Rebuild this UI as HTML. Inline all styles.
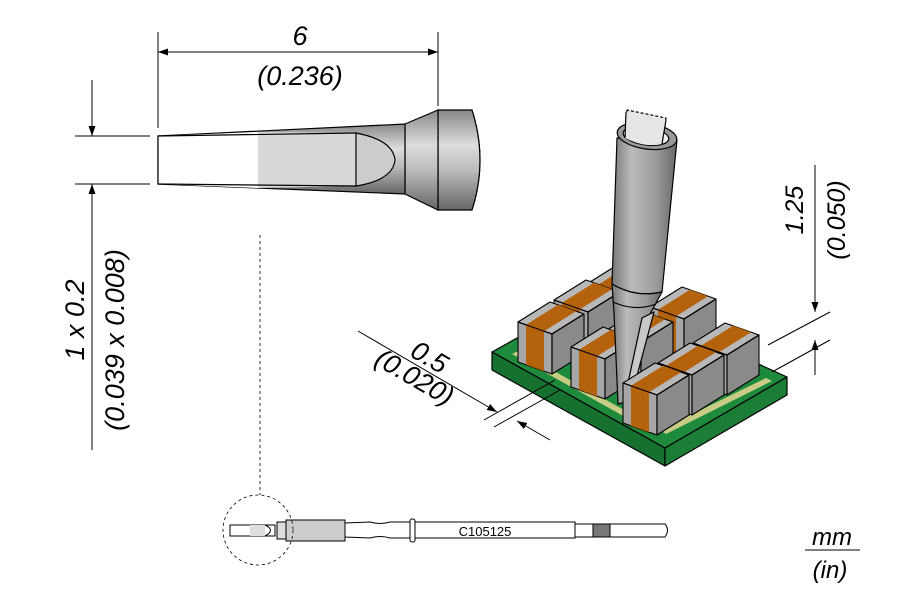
<!DOCTYPE html>
<html><head><meta charset="utf-8"><style>
html,body{margin:0;padding:0;background:#fff;}
svg{display:block;}
text{font-family:"Liberation Sans",sans-serif;font-style:italic;fill:#000;}
</style></head><body>
<svg width="900" height="600" viewBox="0 0 900 600" xmlns="http://www.w3.org/2000/svg">
<defs>
<linearGradient id="gv" x1="0" y1="0" x2="0" y2="1">
<stop offset="0" stop-color="#888"/><stop offset="0.35" stop-color="#ddd"/><stop offset="0.6" stop-color="#bbb"/><stop offset="1" stop-color="#666"/>
</linearGradient>
<linearGradient id="gh" x1="0" y1="0" x2="1" y2="0">
<stop offset="0" stop-color="#777"/><stop offset="0.3" stop-color="#bbb"/><stop offset="0.7" stop-color="#999"/><stop offset="1" stop-color="#666"/>
</linearGradient>
<marker id="ar" viewBox="0 0 10 10" refX="10" refY="5" markerWidth="10" markerHeight="10" orient="auto" markerUnits="userSpaceOnUse"><path d="M0,1.5 L10,5 L0,8.5 Z" fill="#000"/></marker>
<g id="chip" stroke="#000" stroke-width="1.1" stroke-linejoin="round">
<path d="M0,0 L34,12 L66,-8 L32,-20 Z" fill="#b8b8b8"/>
<path d="M0,0 L34,12 L34,52 L0,40 Z" fill="#a6a6a6"/>
<path d="M34,12 L66,-8 L66,32 L34,52 Z" fill="#8a8a8a"/>
<path d="M8,2.8 L26,9.2 L26,49.2 L8,42.8 Z" fill="#b5620c" stroke="none"/>
<path d="M8,2.8 L26,9.2 L58,-10.8 L40,-17.2 Z" fill="#b5620c" stroke="none"/>
<path d="M0,0 L34,12 L66,-8 M34,12 L34,52" fill="none"/>
</g>
</defs>

<!-- top dimension -->
<g stroke="#000" stroke-width="1" fill="none">
<line x1="158" y1="32" x2="158" y2="128"/>
<line x1="438" y1="32" x2="438" y2="106"/>
<line x1="170" y1="52" x2="158" y2="52" marker-end="url(#ar)"/>
<line x1="170" y1="52" x2="426" y2="52"/>
<line x1="426" y1="52" x2="438" y2="52" marker-end="url(#ar)"/>
</g>
<text x="300" y="45" font-size="27" text-anchor="middle">6</text>
<text x="300" y="85" font-size="27" text-anchor="middle">(0.236)</text>

<!-- left dimension -->
<g stroke="#000" stroke-width="1" fill="none">
<line x1="75" y1="136" x2="150" y2="136"/>
<line x1="75" y1="184" x2="150" y2="184"/>
<line x1="92" y1="80" x2="92" y2="136" marker-end="url(#ar)"/>
<line x1="92" y1="450" x2="92" y2="184" marker-end="url(#ar)"/>
<line x1="260" y1="235" x2="260" y2="495" stroke-dasharray="3,3" stroke-width="0.8"/>
</g>
<text transform="translate(84,320) rotate(-90)" font-size="27" text-anchor="middle">1 x 0.2</text>
<text transform="translate(124,340) rotate(-90)" font-size="27" text-anchor="middle">(0.039 x 0.008)</text>

<!-- top tip -->
<g stroke="#000" stroke-width="1.2">
<path d="M438,110 L472,110 Q488,160 472,210 L438,210 Z" fill="url(#gv)"/>
<path d="M472,110 Q488,160 472,210" fill="none" stroke-dasharray="3,2"/>
<path d="M405,124 L438,110 L438,210 L405,194 Z" fill="url(#gv)"/>
<path d="M158,136 L405,124 L405,194 L158,184 Z" fill="url(#gv)"/>
<path d="M158,136 L258,132 L258,188 L158,184 Z" fill="#fff" stroke="none"/>
<path d="M258,132 L356,133 L356,186 L258,188 Z" fill="#d8d8d8" stroke="none"/>
<path d="M158,136 L356,133 M158,184 L356,186" fill="none"/>
<path d="M356,133 Q393,140 395,160 Q393,180 356,186 Z" fill="#ccc"/>
<line x1="158" y1="136" x2="158" y2="184"/>
</g>

<!-- board -->
<g stroke="#000" stroke-width="1.2" stroke-linejoin="round">
<path d="M492,352 L600,292 L787,377 L665,448 Z" fill="#1e8a3c"/>
<path d="M492,352 L665,448 L665,466 L492,370 Z" fill="#167030"/>
<path d="M665,448 L787,377 L787,395 L665,466 Z" fill="#1b7d36"/>
</g>
<g fill="#e8d890" opacity="0.85">
<path d="M512,354 L518,351 L660,430 L654,433 Z"/>
<path d="M660,430 L766,378 L772,381 L666,434 Z"/>
</g>

<use href="#chip" x="590" y="282"/>
<use href="#chip" x="554" y="300"/>
<use href="#chip" x="650" y="307"/>
<use href="#chip" x="518" y="322"/>
<use href="#chip" x="607" y="330"/>
<use href="#chip" x="693" y="343"/>
<use href="#chip" x="571" y="347"/>
<use href="#chip" x="658" y="363"/>

<!-- iron -->
<g stroke="#000" stroke-width="1.2" stroke-linejoin="round">
<path d="M627,110 L625,135 L662,142 L666,118 Z" fill="#e6e6e6" stroke-dasharray="3,2"/>
<path d="M617,138 L612,284 Q635,298 662,292 L677,140 Z" fill="url(#gh)"/>
<ellipse cx="647" cy="136" rx="30" ry="13" fill="#999" transform="rotate(8 647 136)"/>
<ellipse cx="646" cy="136" rx="23" ry="9" fill="#eee" transform="rotate(8 646 136)"/>
<path d="M625,138 L626,112 L666,120 L662,144 Q645,148 625,138 Z" fill="#e6e6e6" stroke="none"/>
<path d="M625,138 L626,112 M662,144 L666,120" fill="none"/>
<path d="M612,284 Q635,298 662,292 L650,314 L626,402 L618,404 L614,312 Z" fill="url(#gh)"/>
<path d="M613,302 Q635,312 656,304" fill="none"/>
<path d="M642,318 L654,312 L630,402 L626,392 Z" fill="#c8c8c8"/>
</g>
<use href="#chip" x="623" y="383"/>

<!-- right dimension -->
<g stroke="#000" stroke-width="1" fill="none">
<line x1="815" y1="165" x2="815" y2="312" marker-end="url(#ar)"/>
<line x1="815" y1="375" x2="815" y2="340" marker-end="url(#ar)"/>
<line x1="768" y1="345" x2="830" y2="312"/>
<line x1="772" y1="372" x2="830" y2="340"/>
</g>
<text transform="translate(803,210) rotate(-90)" font-size="25" text-anchor="middle">1.25</text>
<text transform="translate(845,220) rotate(-90)" font-size="25" text-anchor="middle">(0.050)</text>

<!-- 0.5 dimension -->
<g stroke="#000" stroke-width="1" fill="none">
<line x1="358" y1="331" x2="497" y2="412" marker-end="url(#ar)"/>
<line x1="550" y1="440" x2="517" y2="421" marker-end="url(#ar)"/>
<line x1="484" y1="420" x2="555" y2="380"/>
<line x1="494" y1="427" x2="560" y2="390"/>
</g>
<text transform="translate(425,365) rotate(30)" font-size="27" text-anchor="middle">0.5</text>
<text transform="translate(410,385) rotate(30)" font-size="27" text-anchor="middle">(0.020)</text>

<!-- bottom tool -->
<g stroke="#000" stroke-width="1">
<path d="M345,523 L370,522 Q380,525 390,522 L575,522 L575,538 L390,538 Q380,535 370,538 L345,537 Z" fill="#fff"/>
<rect x="286" y="520" width="59" height="21" fill="#ccc"/>
<rect x="277" y="522" width="9" height="17" fill="#ddd"/>
<rect x="230" y="525" width="45" height="11" fill="#fff"/>
<rect x="250" y="525" width="15" height="11" fill="#ddd" stroke="none"/>
<path d="M265,525 Q276,530 265,536" fill="none"/>
<rect x="410" y="519" width="5" height="23" rx="2" fill="#fff"/>
<rect x="575" y="524" width="18" height="13" fill="#fff"/>
<rect x="593" y="524" width="17" height="13" fill="#777"/>
<path d="M610,524 L665,524 Q670,530 665,537 L610,537 Z" fill="#fff"/>
<circle cx="258" cy="530" r="35" fill="none" stroke-dasharray="3,3" stroke-width="0.8"/>
</g>
<text x="485" y="536" font-size="13" text-anchor="middle" style="font-style:normal">C105125</text>

<!-- units -->
<text x="832" y="545" font-size="24" text-anchor="middle">mm</text>
<line x1="805" y1="550" x2="860" y2="550" stroke="#000" stroke-width="1"/>
<text x="830" y="578" font-size="24" text-anchor="middle">(in)</text>
</svg>
</body></html>
